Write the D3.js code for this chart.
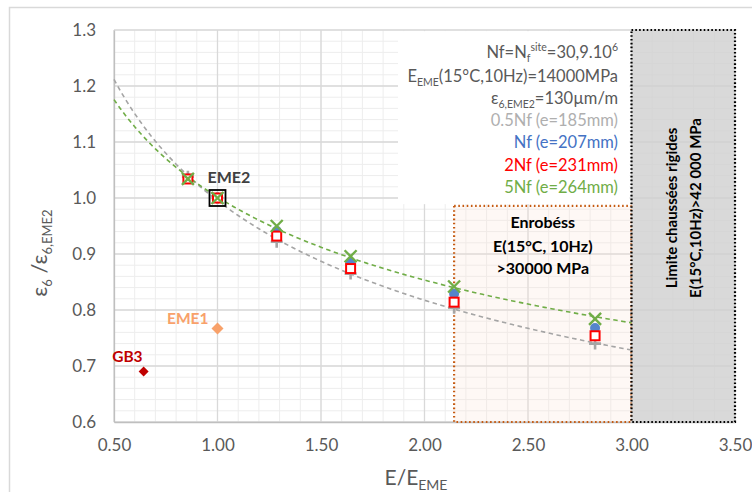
<!DOCTYPE html>
<html><head><meta charset="utf-8">
<script src="https://cdn.jsdelivr.net/npm/d3@7"></script>
<style>
body{margin:0;background:#fff;}
svg{font-family:Lato,"Open Sans",sans-serif;}
</style></head><body>
<svg id="c" width="752" height="492"></svg>
<script>
// ---- data ----
const xValues = [0.857, 1.0, 1.286, 1.643, 2.143, 2.824];
const gray05Nf = [1.038, 1.0, 0.922, 0.865, 0.804, 0.740];
const blueNf   = [1.035, 1.0, 0.941, 0.884, 0.829, 0.768];
const red2Nf   = [1.034, 1.0, 0.932, 0.874, 0.814, 0.754];
const green5Nf = [1.034, 1.0, 0.950, 0.896, 0.842, 0.784];
const eme2 = {x: 1.0, y: 1.0, label: "EME2"};
const eme1 = {x: 1.0, y: 0.767, label: "EME1"};
const gb3  = {x: 0.643, y: 0.690, label: "GB3"};
const xTicks = [0.5, 1.0, 1.5, 2.0, 2.5, 3.0, 3.5];
const yTicks = [0.6, 0.7, 0.8, 0.9, 1.0, 1.1, 1.2, 1.3];
const enrobesBox = {x0: 2.143, x1: 3.0, y0: 0.6, y1: 0.986};
const rigidBox = {x0: 3.0, x1: 3.5, y0: 0.6, y1: 1.3};
const legendBox = {x0: 1.872, x1: 3.0, y0: 0.989, y1: 1.298};
const trendRange = [0.5, 3.0];

const svg = d3.select("#c");
const x = d3.scaleLinear().domain([0.5, 3.5]).range([114, 735]);
const y = d3.scaleLinear().domain([0.6, 1.3]).range([422, 30]);

// outer chart border
svg.append("rect").attr("x", 9.5).attr("y", 7.5).attr("width", 800).attr("height", 600)
  .attr("fill", "none").attr("stroke", "#D9D9D9").attr("stroke-width", 1.5);

const g = svg.append("g");
// minor grid
const minorX = d3.range(0.5, 3.5001, 0.1);
const minorY = d3.range(0.6, 1.3001, 0.02);
g.selectAll(".mx").data(minorX).join("line")
  .attr("x1", d => x(d)).attr("x2", d => x(d)).attr("y1", y(0.6)).attr("y2", y(1.3))
  .attr("stroke", "#EDEDED").attr("stroke-width", 1);
g.selectAll(".my").data(minorY).join("line")
  .attr("y1", d => y(d)).attr("y2", d => y(d)).attr("x1", x(0.5)).attr("x2", x(3.5))
  .attr("stroke", "#EDEDED").attr("stroke-width", 1);
// major grid
g.selectAll(".Mx").data(xTicks).join("line")
  .attr("x1", d => x(d)).attr("x2", d => x(d)).attr("y1", y(0.6)).attr("y2", y(1.3))
  .attr("stroke", "#D9D9D9").attr("stroke-width", 1.3);
g.selectAll(".My").data(yTicks).join("line")
  .attr("y1", d => y(d)).attr("y2", d => y(d)).attr("x1", x(0.5)).attr("x2", x(3.5))
  .attr("stroke", "#D9D9D9").attr("stroke-width", 1.3);

// axes
const xAxis = d3.axisBottom(x).tickValues(xTicks).tickFormat(d3.format(".2f")).tickSize(0).tickPadding(17);
const yAxis = d3.axisLeft(y).tickValues(yTicks).tickFormat(d3.format(".1f")).tickSize(0).tickPadding(18);
const gx = svg.append("g").attr("transform", `translate(0,${y(0.6)})`).call(xAxis);
const gy = svg.append("g").attr("transform", `translate(${x(0.5)},0)`).call(yAxis);
[gx, gy].forEach(a => {
  a.select(".domain").attr("stroke", "#BFBFBF").attr("stroke-width", 1.3);
  a.selectAll("text").attr("fill", "#595959").attr("font-size", 17).attr("font-family", "Lato, sans-serif");
});

// enrobés box
svg.append("rect")
  .attr("x", x(enrobesBox.x0)).attr("y", y(enrobesBox.y1))
  .attr("width", x(enrobesBox.x1) - x(enrobesBox.x0)).attr("height", y(enrobesBox.y0) - y(enrobesBox.y1))
  .attr("fill", "#FBE5D6").attr("fill-opacity", 0.25)
  .attr("stroke", "#C55A11").attr("stroke-width", 2.2).attr("stroke-dasharray", "1.6 2.6");
// rigid box
svg.append("rect")
  .attr("x", x(rigidBox.x0)).attr("y", y(rigidBox.y1))
  .attr("width", x(rigidBox.x1) - x(rigidBox.x0)).attr("height", y(rigidBox.y0) - y(rigidBox.y1))
  .attr("fill", "#D0D0D0").attr("fill-opacity", 0.8)
  .attr("stroke", "#000").attr("stroke-width", 2.2).attr("stroke-dasharray", "1.6 2.2");
// legend white box
svg.append("rect")
  .attr("x", x(legendBox.x0)).attr("y", y(legendBox.y1))
  .attr("width", x(legendBox.x1) - x(legendBox.x0) - 2).attr("height", y(legendBox.y0) - y(legendBox.y1))
  .attr("fill", "#fff");

// power trendlines (least squares on log-log)
function powerFit(xs, ys) {
  const lx = xs.map(Math.log), ly = ys.map(Math.log);
  const n = xs.length, mx = d3.mean(lx), my = d3.mean(ly);
  let sxy = 0, sxx = 0;
  for (let i = 0; i < n; i++) { sxy += (lx[i]-mx)*(ly[i]-my); sxx += (lx[i]-mx)**2; }
  const b = sxy / sxx, a = Math.exp(my - b*mx);
  return t => a * Math.pow(t, b);
}
const samples = d3.range(trendRange[0], trendRange[1] + 1e-9, 0.02);
const line = d3.line().x(d => x(d[0])).y(d => y(d[1]));
[[gray05Nf, "#A5A5A5"], [green5Nf, "#70AD47"]].forEach(([ys, col]) => {
  const f = powerFit(xValues, ys);
  svg.append("path").datum(samples.map(t => [t, f(t)])).attr("d", line)
    .attr("fill", "none").attr("stroke", col).attr("stroke-width", 1.6).attr("stroke-dasharray", "4.5 3.5");
});

// markers
const pts = ys => xValues.map((d, i) => [d, ys[i]]);
// gray plus
svg.append("g").selectAll("path").data(pts(gray05Nf)).join("path")
  .attr("d", d => `M${x(d[0])-6},${y(d[1])}h12M${x(d[0])},${y(d[1])-6}v12`)
  .attr("stroke", "#A5A5A5").attr("stroke-width", 2.6).attr("fill", "none");
// blue circle
svg.append("g").selectAll("circle").data(pts(blueNf)).join("circle")
  .attr("cx", d => x(d[0])).attr("cy", d => y(d[1])).attr("r", 5)
  .attr("fill", "#5585CC");
// red hollow square
svg.append("g").selectAll("rect").data(pts(red2Nf)).join("rect")
  .attr("x", d => x(d[0]) - 4.5).attr("y", d => y(d[1]) - 4.5).attr("width", 9).attr("height", 9)
  .attr("fill", "#fff").attr("stroke", "#FF0000").attr("stroke-width", 2);
// green x
svg.append("g").selectAll("path").data(pts(green5Nf)).join("path")
  .attr("d", d => `M${x(d[0])-6},${y(d[1])-6}l12,12M${x(d[0])+6},${y(d[1])-6}l-12,12`)
  .attr("stroke", "#70AD47").attr("stroke-width", 2.4).attr("fill", "none");

// EME2 square
svg.append("rect").attr("x", x(eme2.x) - 8).attr("y", y(eme2.y) - 8).attr("width", 16).attr("height", 16)
  .attr("fill", "none").attr("stroke", "#000").attr("stroke-width", 1.8);
svg.append("text").attr("x", x(eme2.x) - 10).attr("y", y(eme2.y) - 15).text(eme2.label)
  .attr("font-size", 16).attr("font-weight", "bold").attr("fill", "#404040");
// EME1 diamond
const diamond = (cx, cy, r) => `M${cx},${cy-r}L${cx+r},${cy}L${cx},${cy+r}L${cx-r},${cy}Z`;
svg.append("path").attr("d", diamond(x(eme1.x), y(eme1.y), 6)).attr("fill", "#F8A16A");
svg.append("text").attr("x", x(eme1.x) - 9).attr("y", y(eme1.y) - 4).attr("text-anchor", "end")
  .text(eme1.label).attr("font-size", 15.5).attr("font-weight", "bold").attr("fill", "#F8A16A");
// GB3 diamond
svg.append("path").attr("d", diamond(x(gb3.x), y(gb3.y), 5)).attr("fill", "#C00000");
svg.append("text").attr("x", x(gb3.x) - 1).attr("y", y(gb3.y) - 10).attr("text-anchor", "end")
  .text(gb3.label).attr("font-size", 15.5).attr("font-weight", "bold").attr("fill", "#C00000");

// legend text
const lx = 618;
const leg = svg.append("g").attr("font-size", 16.5).attr("text-anchor", "end");
let t = leg.append("text").attr("x", lx).attr("y", 58).attr("fill", "#595959");
t.append("tspan").text("Nf=N");
t.append("tspan").attr("font-size", 10.5).attr("dy", 4).text("f");
t.append("tspan").attr("font-size", 10.5).attr("dy", -11).text("site");
t.append("tspan").attr("dy", 7).text("=30,9.10");
t.append("tspan").attr("font-size", 10.5).attr("dy", -7).text("6");
t = leg.append("text").attr("x", lx).attr("y", 82).attr("fill", "#595959");
t.append("tspan").text("E");
t.append("tspan").attr("font-size", 10.5).attr("dy", 4).text("EME");
t.append("tspan").attr("dy", -4).text("(15°C,10Hz)=14000MPa");
t = leg.append("text").attr("x", lx).attr("y", 104).attr("fill", "#595959");
t.append("tspan").text("ε");
t.append("tspan").attr("font-size", 10.5).attr("dy", 4).text("6,EME2");
t.append("tspan").attr("dy", -4).text("=130µm/m");
const legItems = [["0.5Nf (e=185mm)", "#AFAFAF", 126], ["Nf (e=207mm)", "#4472C4", 148],
                  ["2Nf (e=231mm)", "#FF0000", 171], ["5Nf (e=264mm)", "#70AD47", 193]];
legItems.forEach(([s, c, yy]) => leg.append("text").attr("x", lx).attr("y", yy).attr("fill", c).text(s));

// enrobés label
const ecx = (x(enrobesBox.x0) + x(enrobesBox.x1)) / 2;
const el = svg.append("g").attr("font-size", 16).attr("font-weight", "bold").attr("text-anchor", "middle").attr("fill", "#000");
[["Enrobéss", 228], ["E(15°C, 10Hz)", 252], [">30000 MPa", 274]].forEach(([s, yy]) =>
  el.append("text").attr("x", ecx).attr("y", yy).text(s));

// rigid label (rotated)
const rl = svg.append("g").attr("font-size", 15).attr("font-weight", "bold").attr("text-anchor", "middle").attr("fill", "#000");
[["Limite chaussées rigides", 677], ["E(15°C,10Hz)>42 000 MPa", 701]].forEach(([s, xx]) =>
  rl.append("text").attr("transform", `translate(${xx},208) rotate(-90)`).text(s));

// axis titles
t = svg.append("text").attr("x", 416).attr("y", 485).attr("text-anchor", "middle").attr("fill", "#595959").attr("font-size", 21);
t.append("tspan").text("E/E");
t.append("tspan").attr("font-size", 14).attr("dy", 5).text("EME");
t = svg.append("text").attr("transform", "translate(47,253) rotate(-90)").attr("text-anchor", "middle").attr("fill", "#595959").attr("font-size", 22);
t.append("tspan").text("ε");
t.append("tspan").attr("font-size", 13).attr("dy", 5).text("6");
t.append("tspan").attr("dy", -5).text(" /ε");
t.append("tspan").attr("font-size", 13).attr("dy", 5).text("6,EME2");
</script>
</body></html>
